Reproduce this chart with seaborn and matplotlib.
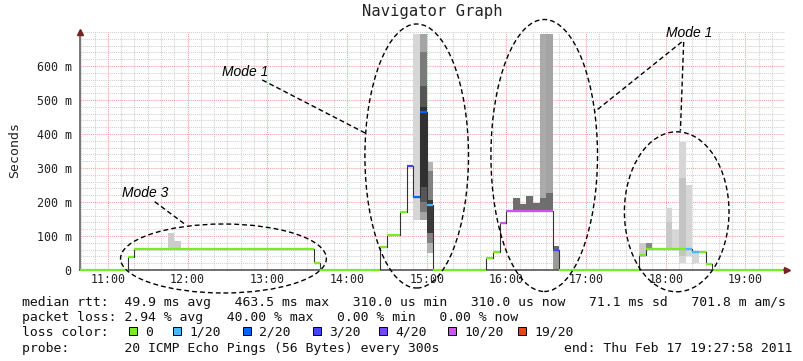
#!/usr/bin/env python3

import matplotlib

matplotlib.use("Agg")
import matplotlib.pyplot as plt
import numpy as np
import pandas as pd
import seaborn as sns
from matplotlib.patches import Ellipse, Rectangle


def hours(hhmm):
    h, m = hhmm.split(":")
    return int(h) + int(m) / 60


# median rtt as a 5 min step series, one entry per change
seg_start = ["10:35", "11:15", "11:20", "13:35", "13:40", "14:25", "14:30", "14:40",
             "14:45", "14:50", "14:55", "15:00", "15:05", "15:45", "15:50", "15:55",
             "16:00", "16:35", "16:40", "17:40", "17:45", "18:15", "18:20", "18:25",
             "18:30", "18:35"]
seg_rtt_ms = [0, 38, 61, 21, 0, 69, 103, 171, 307, 215, 465, 192, 0, 36, 52, 137,
              175, 59, 0, 43, 62, 61, 53, 54, 19, 0]
seg_loss = [0, 0, 0, 0, 0, 0, 0, 0, 3, 2, 2, 1, 0, 0, 0, 10, 10, 3, 0, 0, 0, 1, 1, 0, 0, 0]
end_time = "19:28"

# smoke bands (5 min bins): start, low/high ping in ms, grey level
smoke_start = ["11:45", "11:50",
               "14:50", "14:55", "14:55", "14:55", "14:55", "15:00", "15:00", "15:00",
               "16:25", "16:30", "16:05", "16:10", "16:15", "16:20", "16:25", "16:30",
               "16:35", "16:35",
               "17:40", "17:45", "18:00", "18:00", "18:05", "18:10", "18:10", "18:15",
               "18:20"]
smoke_lo_ms = [61, 61,
               147, 147, 170, 200, 245, 50, 80, 110,
               175, 175, 175, 175, 175, 175, 175, 175,
               0, 59,
               38, 62, 62, 62, 62, 20, 40, 40,
               20]
smoke_hi_ms = [108, 85,
               694, 694, 640, 540, 480, 319, 290, 205,
               694, 694, 213, 193, 219, 196, 211, 227,
               71, 71,
               78, 78, 181, 140, 118, 377, 270, 250,
               53]
smoke_grey = ["#cccccc", "#cccccc",
              "#d6d6d6", "#a4a4a4", "#7a7a7a", "#555555", "#303030", "#b4b4b4", "#808080", "#3a3a3a",
              "#aaaaaa", "#a4a4a4", "#6e6e6e", "#6e6e6e", "#6e6e6e", "#6e6e6e", "#6e6e6e", "#6e6e6e",
              "#9a9a9a", "#6a6a6a",
              "#cccccc", "#888888", "#d6d6d6", "#c8c8c8", "#d6d6d6", "#d6d6d6", "#c4c4c4", "#d6d6d6",
              "#d6d6d6"]

loss_colors = {0: "#77ee22", 1: "#44bbff", 2: "#0066ff", 3: "#4444ff",
               4: "#7744ff", 10: "#cc55ee", 19: "#ee4411"}
loss_labels = ["0", "1/20", "2/20", "3/20", "4/20", "10/20", "19/20"]

y_ticks = [0, 0.1, 0.2, 0.3, 0.4, 0.5, 0.6]
y_ticklabels = ["0", "100 m", "200 m", "300 m", "400 m", "500 m", "600 m"]
x_ticks = list(range(11, 20))
x_ticklabels = [f"{h}:00" for h in x_ticks]

stats_rtt = "median rtt:  49.9 ms avg   463.5 ms max   310.0 us min   310.0 us now   71.1 ms sd   701.8 m am/s"
stats_loss = "packet loss: 2.94 % avg   40.00 % max   0.00 % min   0.00 % now"
probe_text = "probe:       20 ICMP Echo Pings (56 Bytes) every 300s"
end_text = "end: Thu Feb 17 19:27:58 2011"

W, H = 804, 361
MONO = "DejaVu Sans Mono"
X0 = 10.65

sns.set_theme(style="white")
plt.rcParams["font.family"] = ["DejaVu Sans", "Liberation Sans"]

fig = plt.figure(figsize=(W / 100, H / 100), dpi=100)
ax = fig.add_axes([80 / W, 91 / H, (785.3 - 80) / W, (270 - 32) / H])
ax.set_xlim(X0, hours(end_time) - 0.002)
ax.set_ylim(0, 0.70)

# grid
ax.set_xticks(x_ticks)
ax.set_xticks(np.arange(10 + 40 / 60, 19.5, 1 / 6), minor=True)
ax.set_yticks(y_ticks)
ax.set_yticks(np.arange(0, 0.701, 0.02), minor=True)
ax.grid(which="minor", color="#cfcfcf", lw=0.75, ls=(0, (1, 1)))
ax.grid(which="major", color="#f2a0a0", lw=0.75, ls=(0, (1, 1)))
ax.set_axisbelow(True)

# smoke
t0 = np.array([hours(s) for s in smoke_start])
lo = np.array(smoke_lo_ms) / 1000
hi = np.array(smoke_hi_ms) / 1000
ax.bar(t0, hi - lo, bottom=lo, width=5 / 60, align="edge", color=smoke_grey,
       linewidth=0, zorder=2)

# median line
starts = [max(hours(s), X0) for s in seg_start]
ends = starts[1:] + [hours(end_time)]
med = pd.DataFrame({"t": starts + [hours(end_time)],
                    "rtt": [v / 1000 for v in seg_rtt_ms + [seg_rtt_ms[-1]]]})
sns.lineplot(data=med, x="t", y="rtt", drawstyle="steps-post", color="#333333",
             lw=0.8, estimator=None, ax=ax, zorder=3)
ax.hlines([v / 1000 for v in seg_rtt_ms], starts, ends,
          colors=[loss_colors[l] for l in seg_loss], lw=1.6, zorder=4, clip_on=False)

# axes
for side in ["top", "right"]:
    ax.spines[side].set_visible(False)
ax.spines["left"].set_color("#777777")
ax.spines["left"].set_linewidth(1.4)
ax.spines["bottom"].set_color("#555555")
ax.spines["bottom"].set_linewidth(1.2)
ax.plot([X0], [0.70], marker="^", color="#7a2222", ms=5, clip_on=False, zorder=6)
ax.plot([hours(end_time) + 0.05], [0], marker=">", color="#7a2222", ms=5, clip_on=False, zorder=6)

ax.set_xticklabels(x_ticklabels, family=MONO, fontsize=8.4, color="#222222")
ax.set_yticklabels(y_ticklabels, family=MONO, fontsize=8.4, color="#222222")
ax.tick_params(axis="both", which="both", length=0)
ax.tick_params(axis="x", pad=2.5)
ax.tick_params(axis="y", pad=6)
ax.set_xlabel("")
ax.set_ylabel("")

fig.text(432.5 / W, 1 - 11.5 / H, "Navigator Graph", ha="center", va="center",
         family=MONO, fontsize=11.2, color="#222222")
fig.text(15 / W, 1 - 150 / H, "Seconds", rotation=90, ha="center", va="center",
         family=MONO, fontsize=9.5, color="#222222")

# annotations
dash = (0, (3.5, 2.2))
for (cx, cy, w, h) in [(14.875, 0.3353, 1.30, 0.7765), (16.475, 0.3368, 1.3375, 0.80),
                       (18.1375, 0.1712, 1.3125, 0.4706), (12.45, 0.0338, 2.5825, 0.2029)]:
    ax.add_patch(Ellipse((cx, cy), w, h, fill=False, ec="black", lw=1.0, ls=dash,
                         clip_on=False, zorder=7))
for (x1, y1, x2, y2) in [(12.9375, 0.5588, 14.234, 0.4021), (18.2, 0.6706, 17.109, 0.4656),
                         (18.225, 0.6706, 18.184, 0.4097), (11.5875, 0.2009, 11.9625, 0.1353)]:
    ax.plot([x1, x2], [y1, y2], color="black", lw=1.0, ls=dash, clip_on=False, zorder=7)
for (tx, ty, label) in [(12.719, 0.5824, "Mode 1"), (18.294, 0.6985, "Mode 1"),
                        (11.466, 0.2265, "Mode 3")]:
    ax.text(tx, ty, label, ha="center", va="center", fontsize=10, style="italic",
            family="Liberation Sans", color="black", clip_on=False, zorder=8)

# legend block below the graph
def ftext(x, yc, s, **kw):
    fig.text(x / W, 1 - (yc + 4.7) / H, s, ha="left", va="baseline", family=MONO,
             fontsize=9.45, color="#111111", **kw)


ftext(21.7, 301, stats_rtt)
ftext(21.7, 316.5, stats_loss)
ftext(21.7, 331, "loss color:")
box_x = [129, 173, 243, 313, 379, 448, 518]
for bx, key, lab in zip(box_x, loss_colors, loss_labels):
    fig.add_artist(Rectangle((bx / W, 1 - (331 + 4) / H), 8 / W, 8 / H,
                             transform=fig.transFigure, facecolor=loss_colors[key],
                             edgecolor="black", lw=0.7))
    ftext(bx + 16, 331, lab)
ftext(21.7, 347, probe_text)
ftext(564, 347, end_text)

fig.savefig("out.png", dpi=100)
